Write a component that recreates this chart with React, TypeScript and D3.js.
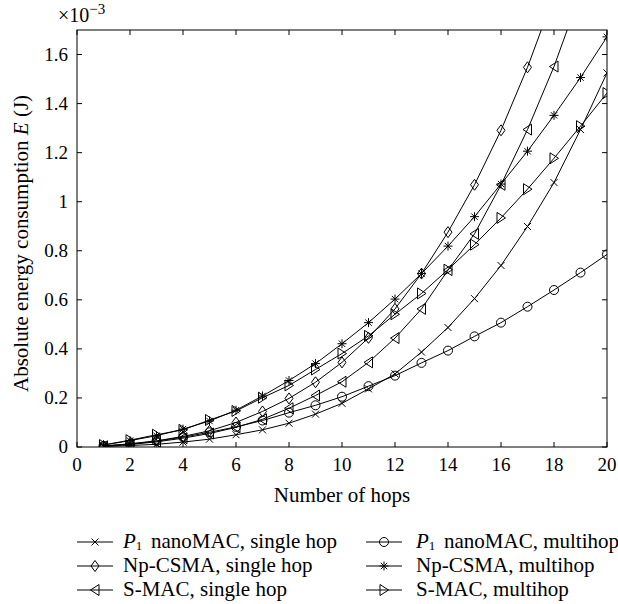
import React from 'react';
import * as d3 from 'd3';

// number of hops on the x axis
const hops = [1, 2, 3, 4, 5, 6, 7, 8, 9, 10, 11, 12, 13, 14, 15, 16, 17, 18, 19, 20];

// absolute energy consumption, in units of 1e-3 J
const p1Single = [0.002, 0.006, 0.011, 0.020, 0.032, 0.050, 0.070, 0.097, 0.134, 0.178, 0.237, 0.298, 0.387, 0.487, 0.605, 0.740, 0.899, 1.078, 1.294, 1.525];
const p1Multi = [0.004, 0.012, 0.024, 0.040, 0.060, 0.082, 0.108, 0.140, 0.170, 0.205, 0.248, 0.291, 0.343, 0.393, 0.451, 0.507, 0.572, 0.640, 0.711, 0.785];
const npSingle = [0.004, 0.013, 0.025, 0.043, 0.066, 0.100, 0.145, 0.198, 0.264, 0.345, 0.445, 0.563, 0.707, 0.876, 1.069, 1.291, 1.548, 1.84, 2.17, 2.54];
const npMulti = [0.008, 0.026, 0.046, 0.073, 0.106, 0.150, 0.208, 0.271, 0.340, 0.421, 0.507, 0.603, 0.707, 0.819, 0.939, 1.072, 1.206, 1.352, 1.506, 1.672];
const smacSingle = [0.003, 0.010, 0.021, 0.036, 0.055, 0.080, 0.113, 0.158, 0.210, 0.266, 0.345, 0.444, 0.563, 0.721, 0.869, 1.069, 1.294, 1.551, 1.85, 2.18];
const smacMulti = [0.008, 0.028, 0.050, 0.070, 0.110, 0.147, 0.201, 0.251, 0.316, 0.381, 0.453, 0.541, 0.626, 0.723, 0.825, 0.934, 1.051, 1.177, 1.308, 1.443];

const xTicks = [0, 2, 4, 6, 8, 10, 12, 14, 16, 18, 20];
const yTicks = [0, 0.2, 0.4, 0.6, 0.8, 1, 1.2, 1.4, 1.6];
const yTickLabels = ['0', '0.2', '0.4', '0.6', '0.8', '1', '1.2', '1.4', '1.6'];

const series = [
  { name: 'nanoMAC, single hop', p1: true, marker: 'x', values: p1Single },
  { name: 'nanoMAC, multihop', p1: true, marker: 'o', values: p1Multi },
  { name: 'Np-CSMA, single hop', p1: false, marker: 'd', values: npSingle },
  { name: 'Np-CSMA, multihop', p1: false, marker: '*', values: npMulti },
  { name: 'S-MAC, single hop', p1: false, marker: '<', values: smacSingle },
  { name: 'S-MAC, multihop', p1: false, marker: '>', values: smacMulti },
];

const W = 618;
const H = 604;
const left = 77;
const right = 607;
const top = 30;
const bottom = 447;
const font = '"Liberation Serif", "Times New Roman", serif';

const markerPath = (m: string) => {
  switch (m) {
    case 'x':
      return 'M-3.5,-3.5L3.5,3.5M-3.5,3.5L3.5,-3.5';
    case 'd':
      return 'M0,-5.5L4,0L0,5.5L-4,0Z';
    case '*':
      return 'M-4.5,0L4.5,0M0,-4.5L0,4.5M-3.2,-3.2L3.2,3.2M-3.2,3.2L3.2,-3.2';
    case '<':
      return 'M-4.5,0L4,-5.5L4,5.5Z';
    case '>':
      return 'M4.5,0L-4,-5.5L-4,5.5Z';
    default:
      return '';
  }
};

const Marker = ({ m, x, y }: { m: string; x: number; y: number }) =>
  m === 'o' ? (
    <circle cx={x} cy={y} r={4.5} fill="none" stroke="#000" strokeWidth={1} />
  ) : (
    <path d={markerPath(m)} transform={`translate(${x},${y})`} fill="none" stroke="#000" strokeWidth={1} />
  );

const App = () => {
  const x = d3.scaleLinear().domain([0, 20]).range([left, right]);
  const y = d3.scaleLinear().domain([0, 1.7]).range([bottom, top]);

  const line = d3
    .line<number>()
    .x((d, i) => x(hops[i]))
    .y((d) => y(d));

  const legendRows = [548, 572, 596];
  const legendCols = [77, 366];
  const legendText = [123, 416];

  return (
    <svg width={W} height={H} style={{ position: 'absolute', left: 0, top: 0, background: '#fff' }} fontFamily={font}>
      <defs>
        <clipPath id="plot">
          <rect x={left} y={top} width={right - left} height={bottom - top} />
        </clipPath>
      </defs>

      {/* data */}
      <g clipPath="url(#plot)">
        {series.map((s) => (
          <g key={s.name + s.marker}>
            <path d={line(s.values) || ''} fill="none" stroke="#000" strokeWidth={1} />
            {s.values.map((v, i) => (
              <Marker key={i} m={s.marker} x={x(hops[i])} y={y(v)} />
            ))}
          </g>
        ))}
      </g>

      {/* frame */}
      <rect x={left} y={top} width={right - left} height={bottom - top} fill="none" stroke="#000" strokeWidth={1} />

      {/* x ticks */}
      {xTicks.map((t) => (
        <g key={'x' + t}>
          <line x1={x(t)} x2={x(t)} y1={bottom} y2={bottom - 5} stroke="#000" />
          <line x1={x(t)} x2={x(t)} y1={top} y2={top + 5} stroke="#000" />
          <text x={x(t)} y={bottom + 24} fontSize={19} textAnchor="middle">{t}</text>
        </g>
      ))}

      {/* y ticks */}
      {yTicks.map((t, i) => (
        <g key={'y' + t}>
          <line x1={left} x2={left + 5} y1={y(t)} y2={y(t)} stroke="#000" />
          <line x1={right} x2={right - 5} y1={y(t)} y2={y(t)} stroke="#000" />
          <text x={68} y={y(t) + 6} fontSize={19} textAnchor="end">{yTickLabels[i]}</text>
        </g>
      ))}

      {/* exponent */}
      <text x={58} y={22} fontSize={20}>
        ×10
        <tspan dy={-8} fontSize={15}>−3</tspan>
      </text>

      {/* axis titles */}
      <text x={(left + right) / 2} y={502} fontSize={21} textAnchor="middle">Number of hops</text>
      <text transform={`translate(28,392) rotate(-90)`} fontSize={21}>
        Absolute energy consumption <tspan fontStyle="italic">E</tspan> (J)
      </text>

      {/* legend */}
      {series.map((s, i) => {
        const cx = legendCols[i % 2];
        const cy = legendRows[Math.floor(i / 2)];
        const tx = legendText[i % 2];
        return (
          <g key={'lg' + i}>
            <line x1={cx} x2={cx + 36} y1={cy - 6} y2={cy - 6} stroke="#000" />
            <Marker m={s.marker} x={cx + 18} y={cy - 6} />
            {s.p1 ? (
              <>
                <text x={tx} y={cy} fontSize={21}>
                  <tspan fontStyle="italic">P</tspan>
                  <tspan dy={2} fontSize={13}>1</tspan>
                </text>
                <text x={tx + 28} y={cy} fontSize={21}>{s.name}</text>
              </>
            ) : (
              <text x={tx} y={cy} fontSize={21}>{s.name}</text>
            )}
          </g>
        );
      })}
    </svg>
  );
};

export default App;
